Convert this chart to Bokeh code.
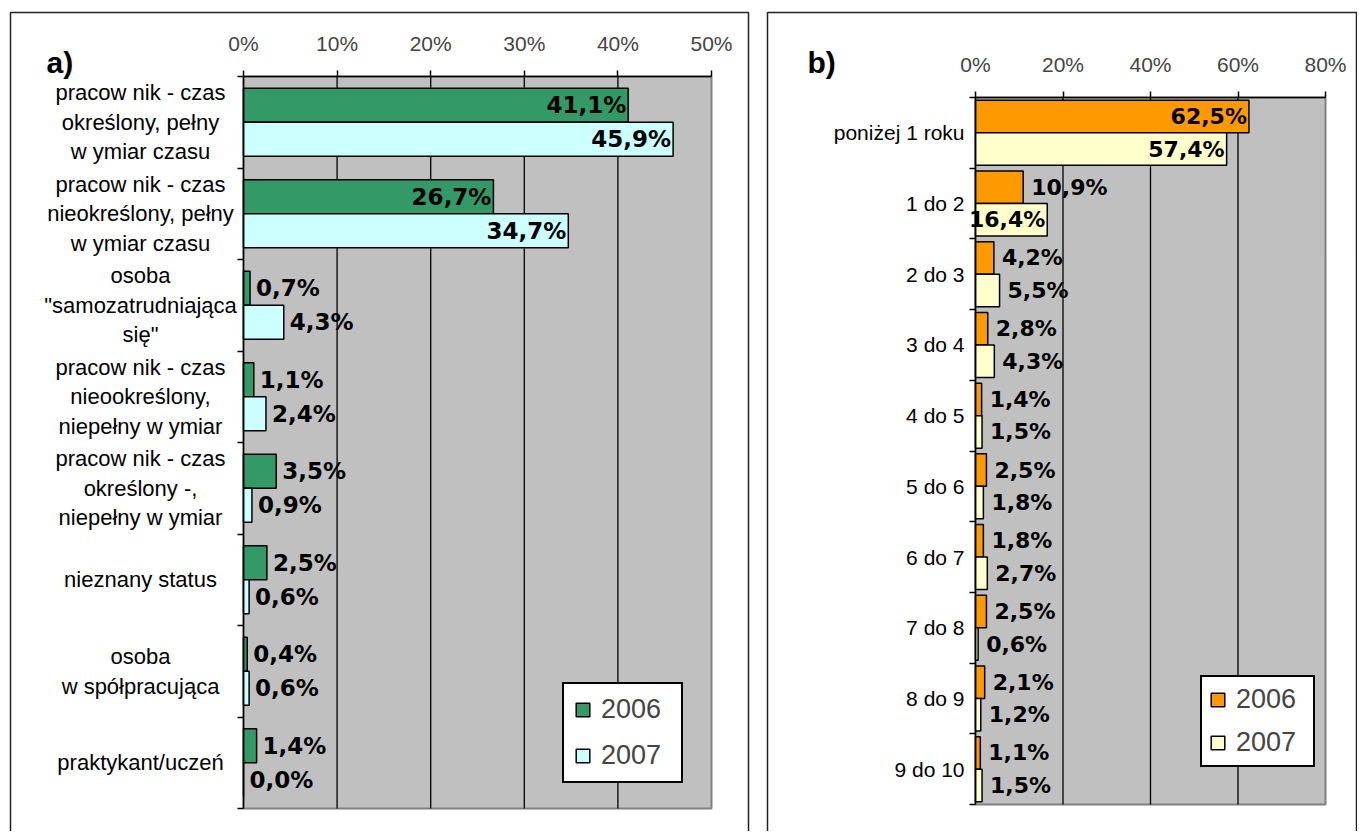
from bokeh.plotting import figure
from bokeh.models import (Range1d, FixedTicker, ColumnDataSource, Legend, LegendItem,
                          Label, BoxAnnotation, LinearAxis)
from bokeh.layouts import row
from bokeh.embed import file_html
from bokeh.resources import INLINE
from bokeh.core.properties import value, field

# ---------------- data ----------------
series_names = ["2006", "2007"]

left_categories = [
    "pracow nik - czas\nokreślony, pełny\nw ymiar czasu",
    "pracow nik - czas\nnieokreślony, pełny\nw ymiar czasu",
    "osoba\n\"samozatrudniająca\nsię\"",
    "pracow nik - czas\nnieookreślony,\nniepełny w ymiar",
    "pracow nik - czas\nokreślony -,\nniepełny w ymiar",
    "nieznany status",
    "osoba\nw spółpracująca",
    "praktykant/uczeń",
]
left_2006 = [41.1, 26.7, 0.7, 1.1, 3.5, 2.5, 0.4, 1.4]
left_2007 = [45.9, 34.7, 4.3, 2.4, 0.9, 0.6, 0.6, 0.0]
left_ticks = [0, 10, 20, 30, 40, 50]

right_categories = ["poniżej 1 roku", "1 do 2", "2 do 3", "3 do 4", "4 do 5",
                    "5 do 6", "6 do 7", "7 do 8", "8 do 9", "9 do 10"]
right_2006 = [62.5, 10.9, 4.2, 2.8, 1.4, 2.5, 1.8, 2.5, 2.1, 1.1]
right_2007 = [57.4, 16.4, 5.5, 4.3, 1.5, 1.8, 2.7, 0.6, 1.2, 1.5]
right_ticks = [0, 20, 40, 60, 80]

LAB_FONT = "Liberation Sans"
VAL_FONT = "DejaVu Sans"


def fmt(v):
    return f"{v:.1f}".replace(".", ",") + "%"


def make_panel(cats, s06, s07, ticks, colors, bar_h, inside_thr, out_off, tag,
               width, height, frame_px, tag_px, box_px, legend_px,
               legend_pad, legend_spacing, cat_align, cat_off, cat_size,
               cat_lh, val_size):
    n = len(cats)
    xmax = ticks[-1]
    x0p, x1p, y0p, y1p = frame_px
    sx = xmax / (x1p - x0p)
    sy = n / (y1p - y0p)

    def dx(px):
        return (px - x0p) * sx

    def dy(py):
        return (py - y0p) * sy

    p = figure(width=width, height=height,
               x_range=Range1d(dx(0), dx(width)), y_range=Range1d(dy(height), dy(0)),
               x_axis_type=None, y_axis_type=None,
               output_backend="svg", toolbar_location=None,
               min_border=0, min_border_left=0, min_border_right=0,
               min_border_top=0, min_border_bottom=0)
    p.background_fill_color = "white"
    p.border_fill_color = "white"
    p.outline_line_color = None

    # plot area + grid lines
    p.quad(left=[0], right=[xmax], top=[0], bottom=[n], fill_color="#C0C0C0",
           line_color="#808080", line_width=2)
    inner = ticks[1:-1]
    p.segment(x0=inner, x1=inner, y0=[0] * len(inner), y1=[n] * len(inner),
              line_color="black", line_width=1.3)

    # bars and value labels
    centers = [i + 0.5 for i in range(n)]
    renderers = []
    for k, (vals, col) in enumerate(zip([s06, s07], colors)):
        sign = -1 if k == 0 else 1
        ys = [c + sign * bar_h / 2 for c in centers]
        inside = [v > inside_thr for v in vals]
        src = ColumnDataSource(dict(
            y=ys, v=vals, label=[fmt(v) for v in vals],
            align=["right" if ins else "left" for ins in inside],
            xoff=[-2 if ins else out_off for ins in inside],
        ))
        r = p.hbar(y="y", left=0, right="v", height=bar_h, fill_color=col,
                   line_color="black", line_width=1.5, source=src)
        p.text(x="v", y="y", text="label", source=src,
               text_align=field("align"), x_offset=field("xoff"),
               text_baseline="middle", text_font=value(VAL_FONT),
               text_font_style="bold", text_font_size=val_size, text_color="black")
        renderers.append(r)

    # category labels
    csrc = ColumnDataSource(dict(y=centers, x=[0] * n, t=cats))
    p.text(x="x", y="y", text="t", source=csrc, x_offset=cat_off,
           text_align=cat_align, text_baseline="middle", text_font=value(LAB_FONT),
           text_font_size=cat_size, text_line_height=cat_lh, text_color="black")

    # axes at the plot area edges
    xaxis = LinearAxis(fixed_location=0, bounds=(0, xmax),
                       ticker=FixedTicker(ticks=ticks),
                       major_label_overrides={t: f"{t}%" for t in ticks},
                       major_tick_out=6, major_tick_in=0, minor_tick_line_color=None,
                       axis_line_color="black", major_tick_line_color="black",
                       axis_line_width=1.5, major_tick_line_width=1.5,
                       major_label_text_font=LAB_FONT, major_label_text_font_size="21px",
                       major_label_standoff=16)
    p.add_layout(xaxis, "above")
    bounds_ticks = list(range(n + 1))
    yaxis = LinearAxis(fixed_location=0, bounds=(0, n),
                       ticker=FixedTicker(ticks=bounds_ticks),
                       major_label_overrides={t: "" for t in bounds_ticks},
                       major_tick_out=6, major_tick_in=0, minor_tick_line_color=None,
                       axis_line_color="black", major_tick_line_color="black",
                       axis_line_width=1.5, major_tick_line_width=1.5,
                       major_label_text_font_size="1px")
    p.add_layout(yaxis, "left")

    legend = Legend(items=[LegendItem(label=s, renderers=[r]) for s, r in zip(series_names, renderers)],
                    location=(legend_px[0], height - legend_px[1]), orientation="vertical",
                    label_text_font=LAB_FONT, label_text_font_size="27px",
                    glyph_width=17, glyph_height=17, label_standoff=10, label_width=70,
                    padding=legend_pad, spacing=legend_spacing, margin=0,
                    border_line_color="black", border_line_alpha=1, border_line_width=2,
                    background_fill_color="white", background_fill_alpha=1)
    p.add_layout(legend)

    p.add_layout(Label(x=dx(tag_px[0]), y=dy(tag_px[1]), text=tag, text_font=LAB_FONT,
                       text_font_style="bold", text_font_size="30px",
                       text_baseline="alphabetic", text_color="black"))
    p.add_layout(BoxAnnotation(left=dx(box_px[0]), right=dx(box_px[1]),
                               top=dy(box_px[2]), bottom=dy(height + 20),
                               fill_alpha=0, line_color="#222222", line_alpha=1,
                               line_width=1.5))
    return p


# canvas pixel layout (left figure starts at page x 0, right figure at page x 763)
p1 = make_panel(left_categories, left_2006, left_2007, left_ticks,
                ["#339966", "#CCFFFF"], 0.372, 20, 6, "a)",
                763, 831, (243, 711, 76, 808),
                (46, 62), (10, 748, 12), (562, 783),
                10, 15, "center", -103, "22px", 1.18, "23px")

p2 = make_panel(right_categories, right_2006, right_2007, right_ticks,
                ["#FF9900", "#FFFFCC"], 0.46, 15, 8, "b)",
                594, 831, (212, 562, 97, 804),
                (44, 62), (4, 593, 12), (437, 767),
                7, 12, "right", -11, "21px", 1.18, "22px")

layout = row(p1, p2)
open("out.html", "w").write(file_html(layout, INLINE))
